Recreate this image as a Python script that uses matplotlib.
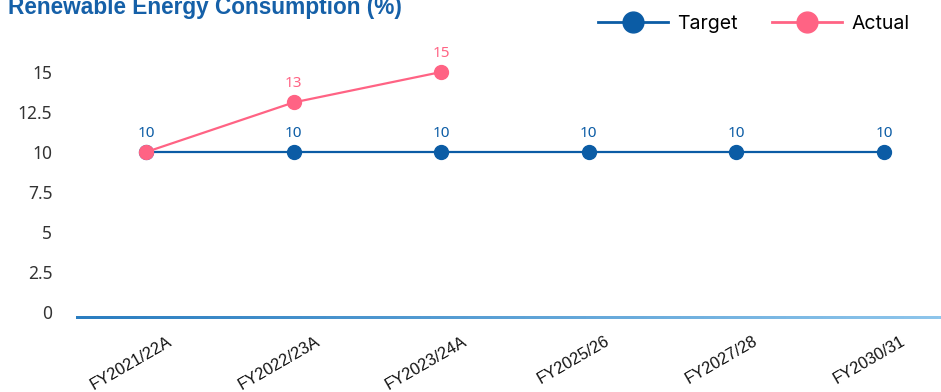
import numpy as np
import matplotlib.pyplot as plt
from matplotlib.colors import LinearSegmentedColormap
from matplotlib.lines import Line2D
import matplotlib.transforms as mtransforms

# Data
years = ["FY2021/22A", "FY2022/23A", "FY2023/24A", "FY2025/26", "FY2027/28", "FY2030/31"]
target = [10, 10, 10, 10, 10, 10]
actual = [10, 13.1, 15]
yticks = [0, 2.5, 5, 7.5, 10, 12.5, 15]

blue = "#0b5ca5"
pink = "#ff6384"

fig = plt.figure(figsize=(9.41, 3.92), dpi=100)
ax = fig.add_axes([76 / 941, 75 / 392, 1 - 76 / 941, (317 - 40) / 392])

x = np.arange(len(years))
ax.plot(x, target, color=blue, lw=1.6, marker="o", ms=10, zorder=3)
ax.plot(x[:len(actual)], actual, color=pink, lw=1.6, marker="o", ms=10, zorder=4)

# Value labels
for xi, v in zip(x, target):
    ax.annotate(f"{v:.0f}", (xi, v), xytext=(0, 13.5), textcoords="offset points",
                ha="center", va="center", color=blue, fontsize=11, family="Noto Sans")
for xi, v in zip(x[1:len(actual)], actual[1:]):
    ax.annotate(f"{v:.0f}", (xi, v), xytext=(0, 13.5), textcoords="offset points",
                ha="center", va="center", color=pink, fontsize=11, family="Noto Sans")

ax.set_xlim(-0.474, len(years) - 1 + 0.386)
ax.set_ylim(-0.3, 17)
ax.set_yticks(yticks)
ax.set_yticklabels([f"{t:g}" for t in yticks], fontsize=12.5, color="#333333",
                   family="Noto Sans")
ax.set_xticks(x)
ax.set_xticklabels(years, rotation=30, ha="center", fontsize=11.8,
                   family="Liberation Sans", color="#111111")
ax.tick_params(axis="y", length=0, pad=17)
ax.tick_params(axis="x", length=0, pad=12)
shift = mtransforms.ScaledTranslation(-15 / 100, 0, fig.dpi_scale_trans)
for lab in ax.get_xticklabels():
    lab.set_transform(lab.get_transform() + shift)

for s in ax.spines.values():
    s.set_visible(False)

# Gradient baseline drawn as a thin image strip
cmap = LinearSegmentedColormap.from_list("base", ["#2a7dc0", "#8ec6ec"])
bax = fig.add_axes([76 / 941, (392 - 319) / 392, 1 - 76 / 941, 3.5 / 392])
bax.imshow(np.linspace(0, 1, 256).reshape(1, -1), cmap=cmap, aspect="auto")
bax.axis("off")

# Title
fig.text(8 / 941, 378 / 392, "Renewable Energy Consumption (%)", fontsize=16.3,
         fontweight="bold", color="#1560a8", family="Liberation Sans", va="baseline")

# Legend
handles = [Line2D([], [], color=blue, lw=2, marker="o", ms=15),
           Line2D([], [], color=pink, lw=2, marker="o", ms=15)]
fig.legend(handles, ["Target", "Actual"], loc="center right",
           bbox_to_anchor=(910 / 941, 1 - 24 / 392), ncol=2, frameon=False,
           prop={"family": "Inter", "size": 14}, handlelength=3.6,
           handletextpad=0.5, columnspacing=1.75, borderpad=0, borderaxespad=0)

fig.savefig("out.png", dpi=100)
